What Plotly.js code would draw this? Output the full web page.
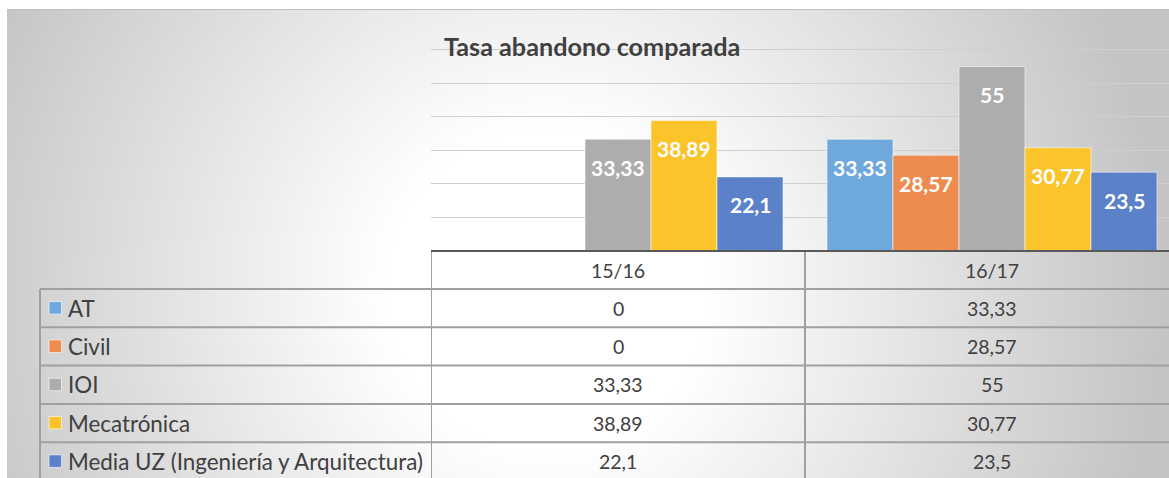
<!DOCTYPE html>
<html>
<head>
<meta charset="utf-8">
<script src="https://cdn.plot.ly/plotly-3.0.1.min.js"></script>
<style>
  html, body { margin: 0; padding: 0; width: 1169px; height: 478px; overflow: hidden; background: #ffffff; }
  #bg { position: absolute; left: 7px; top: 9px; width: 1162px; height: 469px;
        border-top: 1px solid #c0c0c0;
        background: radial-gradient(circle at 540px 280px, #ffffff 0px, #ffffff 160px, #c4c4c4 620px); }
  #chart { position: absolute; left: 0; top: 0; width: 1169px; height: 478px; }
</style>
</head>
<body>
<div id="bg"></div>
<div id="chart"></div>
<script>
// ---------- data ----------
const categories = ['15/16', '16/17'];
const seriesNames = ['AT', 'Civil', 'IOI', 'Mecatrónica', 'Media UZ (Ingeniería y Arquitectura)'];
const AT = [0, 33.33];
const Civil = [0, 28.57];
const IOI = [33.33, 55];
const Mecatronica = [38.89, 30.77];
const MediaUZ = [22.1, 23.5];
const seriesValues = [AT, Civil, IOI, Mecatronica, MediaUZ];
const colors = ['#6FA8DC', '#EE8C4F', '#ADADAD', '#FAC42A', '#5B82C8'];
const titleText = 'Tasa abandono comparada';

// ---------- layout constants (pixels) ----------
const W = 1169, H = 478;
const plotL = 431, plotB = 251, plotT = 33;
const catPx = 374;
const xMaxRange = -0.5 + (W - plotL) / catPx;
const plotH = plotB - plotT;
const headerH = 38, rowH = 38.3;
const tableLeft = 40;
const bargap = 0.1176;
const barW = (1 - bargap) / seriesNames.length;
const lineColor = '#a0a0a0';
const txtColor = '#404040';
const mainFont = 'Lato, "Noto Sans", sans-serif';
const numFont = '"Liberation Sans Narrow", Lato, sans-serif';

const fmt = v => String(v).replace('.', ',');
const py2paper = py => (plotB - py) / plotH;
const px2paper = px => (px - plotL) / (W - plotL);

// ---------- traces ----------
const traces = seriesNames.map((name, i) => ({
  type: 'bar',
  name: name,
  x: categories,
  y: seriesValues[i],
  marker: { color: colors[i], line: { color: 'rgba(255,255,255,0.55)', width: 1 } },
  hoverinfo: 'x+y+name',
  showlegend: false
}));

// ---------- shapes & annotations ----------
const shapes = [];
const annotations = [];

// bar value labels
seriesNames.forEach((name, i) => {
  seriesValues[i].forEach((v, c) => {
    annotations.push({
      x: c + (i - (seriesNames.length - 1) / 2) * barW, y: v, xref: 'x', yref: 'y',
      text: '<b>' + fmt(v) + '</b>', showarrow: false, yshift: -28,
      font: { family: mainFont, size: 21, color: '#ffffff' }
    });
  });
});

// baseline (axis line)
shapes.push({ type: 'line', xref: 'paper', yref: 'paper', x0: 0, x1: 1, y0: 0, y1: 0,
  line: { color: '#595959', width: 2 } });

const nRows = seriesNames.length;
const tableBottomPx = H + 5;
// horizontal row lines
for (let r = 0; r < nRows; r++) {
  const yPx = plotB + headerH + r * rowH;
  shapes.push({ type: 'line', xref: 'paper', yref: 'paper',
    x0: px2paper(tableLeft), x1: 1, y0: py2paper(yPx), y1: py2paper(yPx),
    line: { color: lineColor, width: 2 } });
}
// vertical lines: table left edge
shapes.push({ type: 'line', xref: 'paper', yref: 'paper',
  x0: px2paper(tableLeft), x1: px2paper(tableLeft),
  y0: py2paper(plotB + headerH), y1: py2paper(tableBottomPx),
  line: { color: lineColor, width: 2 } });
// column boundaries
for (let c = 0; c <= categories.length; c++) {
  shapes.push({ type: 'line', xref: 'x', yref: 'paper', x0: c - 0.5, x1: c - 0.5,
    y0: py2paper(plotB + 1), y1: py2paper(tableBottomPx),
    line: { color: lineColor, width: 2 } });
}

// header labels
categories.forEach((cat, c) => {
  annotations.push({ x: c, y: py2paper(plotB + headerH / 2), xref: 'x', yref: 'paper',
    text: cat, showarrow: false, yanchor: 'middle',
    font: { family: numFont, size: 19.5, color: txtColor } });
});

// rows: legend key + name + values
seriesNames.forEach((name, r) => {
  const cy = plotB + headerH + r * rowH + rowH / 2;
  shapes.push({ type: 'rect', xref: 'paper', yref: 'paper',
    x0: px2paper(49), x1: px2paper(61.5), y0: py2paper(cy - 6.5), y1: py2paper(cy + 6),
    fillcolor: colors[r], line: { color: 'rgba(255,255,255,0.6)', width: 1 } });
  annotations.push({ x: px2paper(66), y: py2paper(cy), xref: 'paper', yref: 'paper',
    xanchor: 'left', yanchor: 'middle', text: name, showarrow: false,
    font: { family: mainFont, size: 22.4, color: txtColor } });
  categories.forEach((cat, c) => {
    annotations.push({ x: c, y: py2paper(cy), xref: 'x', yref: 'paper',
      text: fmt(seriesValues[r][c]), showarrow: false, yanchor: 'middle',
      font: { family: numFont, size: 19.5, color: txtColor } });
  });
});

const layout = {
  width: W, height: H,
  margin: { l: plotL, r: 0, t: plotT, b: H - plotB, pad: 0 },
  paper_bgcolor: 'rgba(0,0,0,0)',
  plot_bgcolor: 'rgba(0,0,0,0)',
  barmode: 'group',
  bargap: bargap,
  bargroupgap: 0,
  title: { text: '<b>' + titleText + '</b>', xref: 'container', yref: 'container',
    x: 444 / W, xanchor: 'left', y: 1 - 47 / H, yanchor: 'middle',
    font: { family: mainFont, size: 25.2, color: txtColor } },
  xaxis: { type: 'category', range: [-0.5, xMaxRange], showticklabels: false, showgrid: false,
    zeroline: false, showline: false, ticks: '', fixedrange: true },
  yaxis: { range: [0, 65], dtick: 10, showticklabels: false, showgrid: true, gridcolor: '#cfcfcf',
    gridwidth: 1, zeroline: false, showline: false, ticks: '', fixedrange: true },
  showlegend: false,
  shapes: shapes,
  annotations: annotations
};

Plotly.newPlot('chart', traces, layout, { displayModeBar: false, staticPlot: true });
</script>
</body>
</html>
